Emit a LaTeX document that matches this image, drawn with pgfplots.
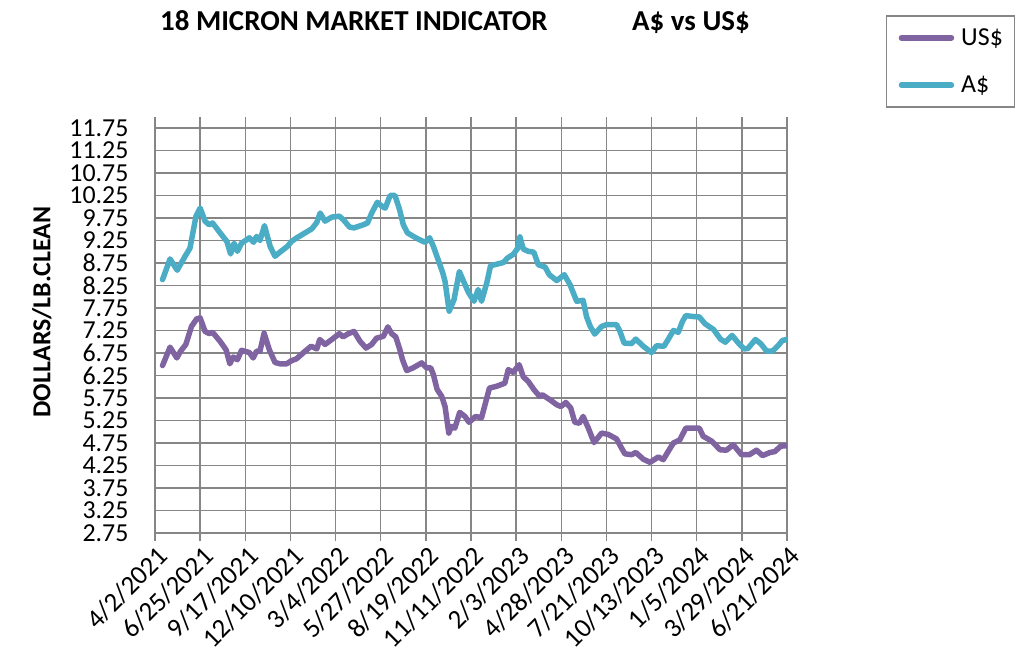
\documentclass[border=0pt]{standalone}
\usepackage{fontspec}
\setmainfont{Carlito}
\usepackage{pgfplots}
\pgfplotsset{compat=1.18}
\usepackage{pgfplotstable}
\definecolor{uscol}{HTML}{8064A2}
\definecolor{aucol}{HTML}{4BACC6}
\definecolor{gridcol}{HTML}{868686}

\pgfplotstableread{
week value
2.0 8.38
4.0 8.84
5.9 8.59
8.0 8.90
9.3 9.08
10.9 9.79
12.0 9.97
13.3 9.68
14.4 9.60
15.3 9.64
17.3 9.42
19.1 9.23
20.1 8.95
21.0 9.19
21.9 9.01
23.0 9.19
25.1 9.31
26.2 9.21
27.0 9.34
27.9 9.25
29.1 9.58
30.6 9.12
31.9 8.90
33.2 8.99
35.2 9.12
36.3 9.23
37.7 9.31
39.9 9.42
41.7 9.51
43.0 9.65
43.9 9.86
45.2 9.68
47.0 9.77
49.0 9.79
50.1 9.71
51.7 9.55
52.9 9.53
55.4 9.60
56.5 9.64
57.6 9.86
59.1 10.10
60.3 10.01
61.2 9.97
62.5 10.25
63.8 10.25
65.0 9.94
66.0 9.60
67.1 9.42
68.7 9.34
70.0 9.28
71.8 9.21
73.0 9.31
74.0 9.12
75.1 8.86
76.5 8.53
77.1 8.34
78.2 7.68
79.5 7.94
80.9 8.56
82.4 8.27
83.3 8.10
84.8 7.90
85.9 8.16
86.8 7.90
88.2 8.31
89.2 8.69
92.6 8.76
93.7 8.86
95.2 8.94
96.3 9.06
97.0 9.33
97.9 9.06
99.2 9.01
100.7 8.99
101.9 8.71
103.7 8.66
104.8 8.49
106.8 8.36
108.8 8.49
110.3 8.27
112.1 7.90
113.8 7.92
114.7 7.56
115.7 7.34
116.9 7.17
118.7 7.34
120.0 7.38
122.7 7.38
123.6 7.23
124.7 6.97
126.7 6.96
127.8 7.06
129.8 6.90
132.0 6.76
133.3 6.91
135.3 6.90
136.4 7.05
137.8 7.25
139.1 7.21
140.2 7.45
141.1 7.58
143.1 7.56
144.7 7.55
146.2 7.40
148.5 7.27
150.3 7.06
151.6 6.99
153.4 7.14
155.2 6.96
156.6 6.84
157.6 6.85
159.6 7.05
161.0 6.96
162.6 6.79
164.1 6.79
165.5 6.90
166.8 7.03
168.0 7.05
}\audata

\pgfplotstableread{
week value
2.0 6.47
4.0 6.88
5.8 6.64
6.8 6.79
8.2 6.94
9.7 7.34
11.1 7.51
12.0 7.53
13.3 7.23
14.4 7.18
15.3 7.21
17.3 7.01
18.9 6.82
19.9 6.51
20.8 6.66
21.9 6.60
23.0 6.81
25.1 6.76
26.1 6.64
27.0 6.79
27.9 6.79
29.0 7.19
30.4 6.82
31.9 6.54
33.2 6.51
35.0 6.51
36.3 6.58
37.6 6.62
39.9 6.79
41.5 6.90
43.0 6.84
43.8 7.05
45.2 6.94
47.0 7.05
49.0 7.18
50.0 7.11
51.4 7.18
52.9 7.23
54.5 7.01
56.1 6.86
57.6 6.94
58.9 7.08
60.7 7.12
61.9 7.33
62.9 7.18
64.0 7.11
65.1 6.82
65.8 6.60
66.9 6.36
68.6 6.42
70.9 6.53
72.2 6.42
73.3 6.42
74.0 6.27
75.0 5.94
76.2 5.79
77.1 5.56
78.1 4.97
78.8 5.12
79.7 5.08
81.0 5.43
82.4 5.34
83.5 5.21
85.2 5.34
86.8 5.31
88.9 5.97
90.8 6.01
93.0 6.08
93.9 6.38
95.2 6.32
96.8 6.49
97.9 6.22
99.2 6.12
100.7 5.94
102.2 5.79
103.0 5.82
105.0 5.71
106.8 5.60
107.9 5.56
109.2 5.65
110.5 5.53
111.6 5.21
112.8 5.19
113.8 5.34
115.2 5.08
116.7 4.76
118.7 4.97
120.5 4.94
122.7 4.84
124.0 4.64
124.9 4.51
126.7 4.49
127.8 4.54
129.8 4.39
131.6 4.32
133.8 4.44
135.1 4.38
136.4 4.56
137.8 4.75
139.5 4.82
141.1 5.08
143.1 5.08
144.7 5.08
145.7 4.90
148.0 4.79
150.2 4.60
151.9 4.59
153.7 4.71
155.9 4.49
158.0 4.49
159.9 4.59
161.5 4.47
163.5 4.54
164.8 4.56
166.3 4.68
168.0 4.69
}\usdata

\begin{document}
\begin{tikzpicture}
\useasboundingbox (-155bp,-127bp) rectangle (860bp,533bp);
\begin{axis}[
  at={(0,0)}, anchor=south west,
  scale only axis, width=632bp, height=416.25bp,
  xmin=0, xmax=168, ymin=2.75, ymax=12,
  axis x line*=bottom, axis y line*=left,
  axis line style={gridcol, line width=1.5bp, -},
  xtick={0,12,24,36,48,60,72,84,96,108,120,132,144,156,168},
  xticklabels={4/2/2021,6/25/2021,9/17/2021,12/10/2021,3/4/2022,5/27/2022,8/19/2022,11/11/2022,2/3/2023,4/28/2023,7/21/2023,10/13/2023,1/5/2024,3/29/2024,6/21/2024},
  ytick={2.75,3.25,3.75,4.25,4.75,5.25,5.75,6.25,6.75,7.25,7.75,8.25,8.75,9.25,9.75,10.25,10.75,11.25,11.75},
  grid=major,
  major grid style={gridcol, line width=1.5bp},
  tick align=outside, major tick length=8bp,
  xtick style={gridcol, line width=1.5bp},
  ytick style={draw=none},
  /pgf/number format/assume math mode=true,
  yticklabel style={/pgf/number format/fixed, /pgf/number format/fixed zerofill, /pgf/number format/precision=2, font=\fontsize{26}{26}\selectfont, xshift=-15bp},
  xticklabel style={rotate=45, anchor=north east, font=\fontsize{27}{27}\selectfont, xshift=2bp},
  legend style={at={(1.1566,1.2444)}, anchor=north west, draw=gridcol, line width=1.5bp,
    font=\fontsize{26}{26}\selectfont, inner xsep=12bp, inner ysep=13bp, row sep=29bp,
    nodes={inner sep=0pt}, /tikz/every odd column/.append style={column sep=7bp}},
  legend cell align=left,
  legend image code/.code={\draw[#1, line width=5.5bp, line cap=round] (2bp,0bp) -- (52bp,0bp);},
]
\addplot[uscol, line width=5.5bp, line join=round, line cap=round] table[x=week, y=value] {\usdata};
\addlegendentry{US\$}
\addplot[aucol, line width=5.5bp, line join=round, line cap=round] table[x=week, y=value] {\audata};
\addlegendentry{A\$}
\end{axis}
\node[anchor=base west, font=\bfseries\fontsize{29}{29}\selectfont, inner sep=0pt] at (5bp,502.5bp) {18 MICRON MARKET INDICATOR};
\node[anchor=base west, font=\bfseries\fontsize{29}{29}\selectfont, inner sep=0pt] at (477bp,502.5bp) {A\$ vs US\$};
\node[rotate=90, font=\bfseries\fontsize{26}{26}\selectfont, inner sep=0pt] at (-113bp,221bp) {DOLLARS/LB.CLEAN};
\end{tikzpicture}
\end{document}
